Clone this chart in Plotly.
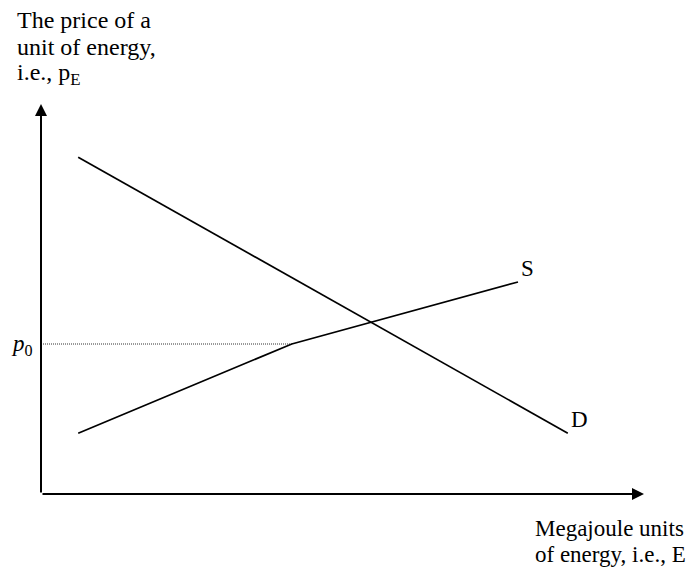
import plotly.graph_objects as go

# energy market: quantity E (Megajoules) vs price p_E, arbitrary units
demand_E = [6.2, 87.8]
demand_p = [84.2, 15.2]
supply_E = [6.2, 41.8, 79.5]
supply_p = [15.2, 37.5, 53]
p0 = 37.5
p0_E = 41.8        # quantity where the p0 guide meets the supply kink
axis_E_max = 100.5
axis_p_max = 97.5

W, H = 691, 578
ML, MB = 41, 84
PW, PH = W - ML, H - MB
X_UNIT, Y_UNIT = 6.0, 4.0   # px per data unit

FONT = "Liberation Serif, Times New Roman, serif"

fig = go.Figure()

# guide line at p0
fig.add_trace(go.Scatter(x=[0, p0_E], y=[p0, p0], mode="lines",
                         line=dict(color="#333333", width=1, dash="1px,1px"),
                         hoverinfo="skip"))
fig.add_trace(go.Scatter(x=demand_E, y=demand_p, mode="lines", name="D",
                         line=dict(color="black", width=1.7)))
fig.add_trace(go.Scatter(x=supply_E, y=supply_p, mode="lines", name="S",
                         line=dict(color="black", width=1.7)))

# axes with arrow heads
for x, y in [(axis_E_max, 0), (0, axis_p_max)]:
    fig.add_annotation(x=x, y=y, ax=0, ay=0, xref="x", yref="y", axref="x", ayref="y",
                       text="", showarrow=True, arrowhead=2, arrowsize=1.2,
                       arrowwidth=2, arrowcolor="black")

# text labels, placed by pixel position on the page: (text, x, y, size)
labels = [
    ("The price of a", 15, 20, 24),
    ("unit of energy,", 15, 47, 24),
    ("i.e., p<sub>E</sub>", 15, 74, 24),
    ("<i>p</i><sub>0</sub>", 9, 345, 23),
    ("S", 519, 268, 23),
    ("D", 569, 419, 23),
    ("Megajoule units", 533, 528, 23),
    ("of energy, i.e., E", 533, 554, 23),
]
for txt, px, py, size in labels:
    fig.add_annotation(x=(px - ML) / PW, y=(PH - py) / PH, xref="paper", yref="paper",
                       text=txt, showarrow=False, xanchor="left", yanchor="middle",
                       font=dict(family=FONT, size=size, color="black"))

fig.update_xaxes(range=[0, PW / X_UNIT], visible=False, fixedrange=True)
fig.update_yaxes(range=[0, PH / Y_UNIT], visible=False, fixedrange=True)
fig.update_layout(width=W, height=H, margin=dict(l=ML, r=0, t=0, b=MB),
                  plot_bgcolor="white", paper_bgcolor="white", showlegend=False)

fig.write_html("out.html", config={"displayModeBar": False},
               post_script="document.body.style.margin='0';")
